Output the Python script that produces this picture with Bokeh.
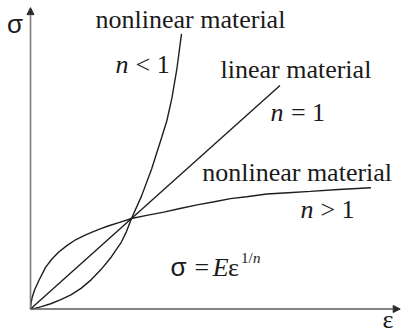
from bokeh.plotting import figure
from bokeh.models import Range1d, Arrow, NormalHead, ColumnDataSource
from bokeh.embed import file_html
from bokeh.resources import INLINE

# ---- data (strain eps, stress sigma; crossing at (1, 1)) ----
linear_eps = [0.0, 2.47]
linear_sig = [0.0, 2.47]

soft_eps = [0.0, 0.005, 0.017, 0.04, 0.083, 0.149, 0.21, 0.28, 0.36, 0.446, 0.53, 0.61, 0.69,
            0.775, 0.89, 1.0, 1.15, 1.32, 1.48, 1.65, 1.82, 1.98, 2.14, 2.34, 2.55, 2.77,
            3.05, 3.37]
soft_sig = [0.0, 0.06, 0.13, 0.21, 0.315, 0.46, 0.55, 0.63, 0.70, 0.765, 0.81, 0.85, 0.885,
            0.92, 0.96, 1.0, 1.035, 1.07, 1.11, 1.15, 1.185, 1.22, 1.24, 1.27, 1.285, 1.30,
            1.32, 1.34]

stiff_eps = [0.0, 0.05, 0.1, 0.2, 0.3, 0.4, 0.5, 0.6, 0.7, 0.8, 0.9, 0.95, 1.0, 1.1, 1.2,
             1.3, 1.35, 1.4, 1.45, 1.495]
stiff_sig = [0.0, 0.01, 0.024, 0.058, 0.103, 0.156, 0.228, 0.322, 0.438, 0.575, 0.74, 0.855,
             1.0, 1.25, 1.55, 1.9, 2.08, 2.33, 2.66, 3.04]

axis_x_end = 3.66
axis_y_end = 3.33

# ---- label pieces: (text, eps, sigma, font, style, size_px, align) ----
SERIF = "Liberation Serif"
SANS = "Liberation Sans"
labels = [
    ("σ", -0.153, 3.055, SANS, "normal", 26, "center"),
    ("ε", 3.540, -0.205, SERIF, "normal", 26, "center"),
    ("nonlinear material", 0.6436, 3.114, SERIF, "normal", 26, "left"),
    ("n", 0.8416, 2.617, SERIF, "italic", 26, "left"),
    ("< 1", 1.040, 2.617, SERIF, "normal", 26, "left"),
    ("linear material", 1.881, 2.561, SERIF, "normal", 26, "left"),
    ("n", 2.376, 2.083, SERIF, "italic", 26, "left"),
    ("= 1", 2.578, 2.083, SERIF, "normal", 26, "left"),
    ("nonlinear material", 1.700, 1.420, SERIF, "normal", 26, "left"),
    ("n", 2.673, 1.014, SERIF, "italic", 26, "left"),
    ("> 1", 2.870, 1.014, SERIF, "normal", 26, "left"),
    ("σ", 1.386, 0.370, SANS, "normal", 26, "left"),
    ("=", 1.624, 0.370, SERIF, "normal", 26, "left"),
    ("E", 1.805, 0.370, SERIF, "italic", 26, "left"),
    ("ε", 1.955, 0.370, SERIF, "normal", 26, "left"),
    ("1/", 2.085, 0.514, SERIF, "normal", 15, "left"),
    ("n", 2.202, 0.514, SERIF, "italic", 15, "left"),
]

PX_PER_SIGMA = 90.5          # vertical scale of the frame, px per unit of sigma
BASELINE_FIX = 0.31          # rendered alphabetic baseline sits ~0.31 em low

p = figure(width=401, height=335,
           x_range=Range1d(-0.297, 3.673), y_range=Range1d(-0.293, 3.409),
           x_axis_type=None, y_axis_type=None,
           output_backend="svg", toolbar_location=None, min_border=0)
p.grid.visible = False
p.outline_line_color = None
p.background_fill_color = "white"
p.border_fill_color = "white"

curve_kw = dict(line_color="#1e1e1e", line_width=1.4)
p.line(linear_eps, linear_sig, **curve_kw)
p.line(soft_eps, soft_sig, **curve_kw)
p.line(stiff_eps, stiff_sig, **curve_kw)

p.add_layout(Arrow(end=NormalHead(size=7, fill_color="#2a2a2a", line_color="#2a2a2a"),
                   x_start=0, y_start=0, x_end=0, y_end=axis_y_end,
                   line_color="#7a7a7a", line_width=1.6))
p.add_layout(Arrow(end=NormalHead(size=7, fill_color="#2a2a2a", line_color="#2a2a2a"),
                   x_start=0, y_start=0, x_end=axis_x_end, y_end=0,
                   line_color="#5a5a5a", line_width=1.6))

src = ColumnDataSource(dict(
    text=[l[0] for l in labels],
    x=[l[1] for l in labels],
    y=[l[2] + BASELINE_FIX * l[5] / PX_PER_SIGMA for l in labels],
    font=[l[3] for l in labels],
    style=[l[4] for l in labels],
    size=[f"{l[5]}px" for l in labels],
    align=[l[6] for l in labels],
))
p.text(x="x", y="y", text="text", source=src, text_font="font", text_font_style="style",
       text_font_size="size", text_align="align", text_baseline="alphabetic",
       text_color="#1a1a1a")

open("out.html", "w").write(file_html(p, INLINE))
